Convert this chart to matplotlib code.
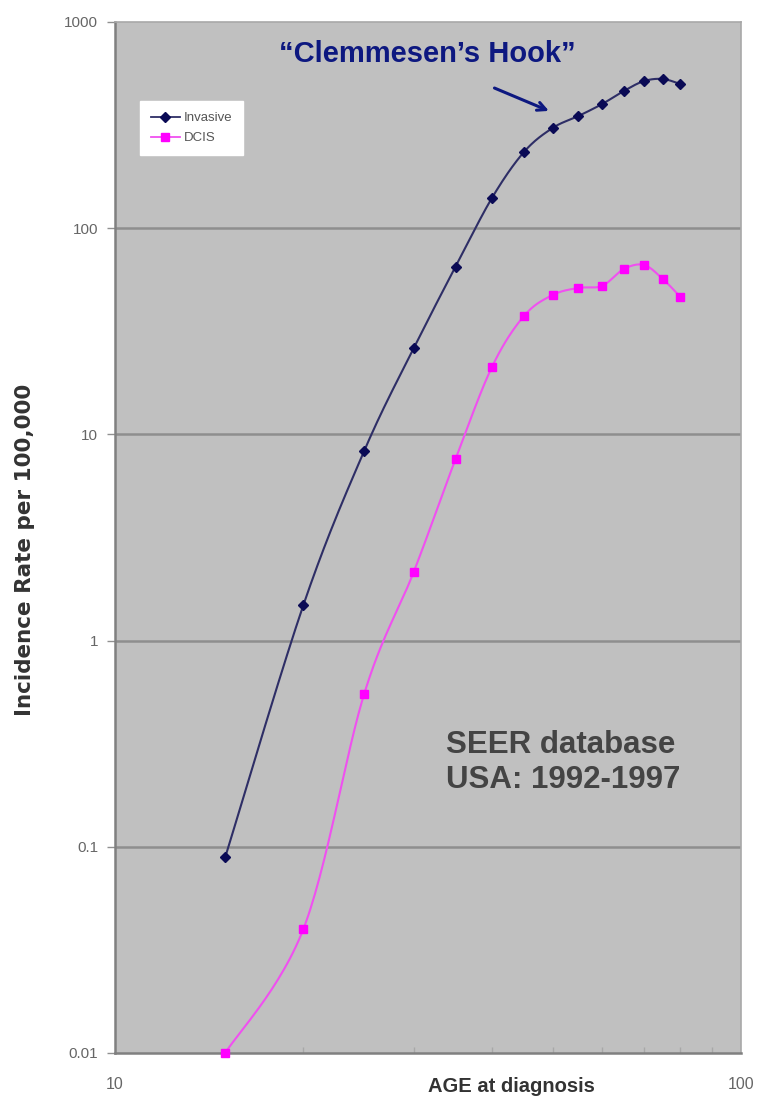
import numpy as np
import matplotlib
matplotlib.use('Agg')
import matplotlib.pyplot as plt
from matplotlib.lines import Line2D
from matplotlib.ticker import FixedLocator, NullFormatter, LogLocator

plt.rcParams['font.family'] = ['Liberation Sans', 'DejaVu Sans']

# ── data ───────────────────────────────────────────────
ages = [15, 20, 25, 30, 35, 40, 45, 50, 55, 60, 65, 70, 75, 80]
invasive = [0.089, 1.49, 8.3, 26.2, 65, 140, 234, 306, 350, 400, 463, 517, 529, 500]
dcis = [0.010, 0.040, 0.55, 2.15, 7.6, 21.2, 37.5, 47.4, 51.3, 52.5, 63.4, 66.3, 56.7, 46.4]

y_ticks = [0.01, 0.1, 1, 10, 100, 1000]
y_labels = ['0.01', '0.1', '1', '10', '100', '1000']


def smooth_loglog(x, y, n=30):
    """Catmull-Rom spline through the points in log-log space (spreadsheet-style smoothing)."""
    lx = np.log10(x)
    ly = np.log10(y)
    px = np.concatenate([[lx[0]], lx, [lx[-1]]])
    py = np.concatenate([[ly[0]], ly, [ly[-1]]])
    out_x, out_y = [], []
    t = np.linspace(0, 1, n)
    for i in range(1, len(px) - 2):
        p0, p1, p2, p3 = px[i - 1], px[i], px[i + 1], px[i + 2]
        q0, q1, q2, q3 = py[i - 1], py[i], py[i + 1], py[i + 2]
        # bezier control points
        c1x, c1y = p1 + (p2 - p0) / 6, q1 + (q2 - q0) / 6
        c2x, c2y = p2 - (p3 - p1) / 6, q2 - (q3 - q1) / 6
        bx = (1 - t) ** 3 * p1 + 3 * (1 - t) ** 2 * t * c1x + 3 * (1 - t) * t ** 2 * c2x + t ** 3 * p2
        by = (1 - t) ** 3 * q1 + 3 * (1 - t) ** 2 * t * c1y + 3 * (1 - t) * t ** 2 * c2y + t ** 3 * q2
        out_x.extend(bx)
        out_y.extend(by)
    return 10 ** np.array(out_x), 10 ** np.array(out_y)


INV_LINE = '#2e2e66'
INV_MARK = '#0a0a55'
DCIS_LINE = '#f050f0'
DCIS_MARK = '#ff00ff'

fig = plt.figure(figsize=(7.58, 11.04), dpi=100)
fig.patch.set_facecolor('white')
ax = fig.add_axes([0.1517, 0.0462, 0.8259, 0.9339])
ax.set_facecolor('#c0c0c0')
ax.set_xscale('log')
ax.set_yscale('log')
ax.set_xlim(10, 100)
ax.set_ylim(0.01, 1000)

# gridlines at each decade
for yv in y_ticks[1:-1]:
    ax.axhline(yv, color='#8e8e8e', linewidth=1.8, zorder=1)

sx, sy = smooth_loglog(ages, invasive)
ax.plot(sx, sy, color=INV_LINE, linewidth=1.5, zorder=3)
ax.plot(ages, invasive, linestyle='none', marker='D', markersize=5.5,
        color=INV_MARK, markeredgecolor=INV_MARK, zorder=4)

sx, sy = smooth_loglog(ages, dcis)
ax.plot(sx, sy, color=DCIS_LINE, linewidth=1.5, zorder=3, clip_on=False)
ax.plot(ages, dcis, linestyle='none', marker='s', markersize=6,
        color=DCIS_MARK, markeredgecolor=DCIS_MARK, zorder=4, clip_on=False)

# axes frame
for side in ['left', 'bottom']:
    ax.spines[side].set_color('#808080')
    ax.spines[side].set_linewidth(1.8)
for side in ['top', 'right']:
    ax.spines[side].set_color('#a8a8a8')
    ax.spines[side].set_linewidth(1.2)

ax.yaxis.set_major_locator(FixedLocator(y_ticks))
ax.set_yticklabels(y_labels)
ax.yaxis.set_minor_locator(FixedLocator([]))
ax.tick_params(axis='y', which='major', direction='out', length=6, width=1,
               color='#909090', labelsize=11, labelcolor='#666666', pad=6)

ax.xaxis.set_major_locator(FixedLocator([10, 100]))
ax.set_xticklabels(['10', '100'])
ax.xaxis.set_minor_locator(LogLocator(base=10, subs=np.arange(2, 10)))
ax.xaxis.set_minor_formatter(NullFormatter())
ax.tick_params(axis='x', which='major', length=0, labelsize=11.5,
               labelcolor='#666666', pad=17)
ax.tick_params(axis='x', which='minor', direction='in', length=4, width=1,
               color='#a8a8a8')

ax.set_xlabel('AGE at diagnosis', fontsize=14.5, fontweight='bold',
              color='#333333')
ax.xaxis.set_label_coords(0.633, -0.023)
ax.set_ylabel('Incidence Rate per 100,000', fontsize=15.5, fontweight='bold',
              color='#333333', family=['DejaVu Sans'])
ax.yaxis.set_label_coords(-0.128, 0.488)

# legend
handles = [
    Line2D([], [], color=INV_LINE, marker='D', markersize=5.5,
           markerfacecolor=INV_MARK, markeredgecolor=INV_MARK, linewidth=1.3),
    Line2D([], [], color=DCIS_LINE, marker='s', markersize=6,
           markerfacecolor=DCIS_MARK, markeredgecolor=DCIS_MARK, linewidth=1.3),
]
leg = ax.legend(handles, ['Invasive', 'DCIS'], loc='upper left',
                bbox_to_anchor=(0.04, 0.923), frameon=True,
                prop={'size': 9.5},
                fancybox=False, framealpha=1, edgecolor='white',
                handlelength=2.2, handletextpad=0.3, borderpad=0.8,
                labelspacing=0.6, borderaxespad=0)
for t in leg.get_texts():
    t.set_color('#555555')

# annotations
ax.annotate('', xy=(49.8, 366), xytext=(40, 484),
            arrowprops=dict(arrowstyle='->,head_length=0.6,head_width=0.3',
                            color='#0d1880', linewidth=2.2))
ax.text(0.499, 0.969, '\u201cClemmesen\u2019s Hook\u201d', transform=ax.transAxes,
        ha='center', va='center', fontsize=21, fontweight='bold', color='#0d1880')

ax.text(0.528, 0.282, 'SEER database\nUSA: 1992-1997', transform=ax.transAxes,
        ha='left', va='center', fontsize=22.5, fontweight='bold', color='#444444',
        linespacing=1.22)

plt.savefig('out.png', dpi=100, facecolor='white')
plt.close()
